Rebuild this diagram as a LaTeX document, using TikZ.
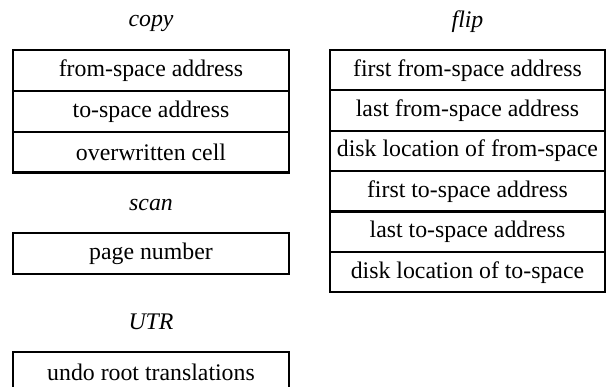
\documentclass[tikz,border=0pt]{standalone}
\usepackage{fontspec}
\setmainfont{Liberation Serif}
\usetikzlibrary{positioning}

\begin{document}
\begin{tikzpicture}[x=1pt,y=1pt,line width=2.2pt,
        node distance=0pt,
        field/.style={rectangle,draw,outer sep=0pt,inner sep=0pt,
          minimum height=40.8pt,font=\fontsize{23.8}{28}\selectfont},
        lfield/.style={field,minimum width=276pt},
        rfield/.style={field,minimum width=275pt,minimum height=40.4pt},
        title/.style={anchor=base,font=\fontsize{23.8}{28}\selectfont\itshape}]
      \clip (0,0) rectangle (606,-387);
      \useasboundingbox (0,0) rectangle (606,-387);

      % copy
      \node[lfield] (cp1) at (151,-70.5) {from-space address};
      \node[lfield] (cp2) [below=of cp1] {to-space address};
      \node[lfield] (cp3) [below=of cp2] {overwritten cell};
      \node[title] (cptitle) at (151,-27) {copy};

      % scan
      \node[lfield] (sc1) at (151,-253.5) {page number};
      \node[title] (sctitle) at (151,-211) {scan};

      % UTR
      \node[lfield] (ut1) at (151,-372.5) {undo root translations};
      \node[title] (uttitle) at (151,-330) {UTR};

      % flip
      \node[rfield] (fl1) at (467.5,-70.2) {first from-space address};
      \node[rfield] (fl2) [below=of fl1] {last from-space address};
      \node[rfield] (fl3) [below=of fl2] {disk location of from-space};
      \node[rfield] (fl4) [below=of fl3] {first to-space address};
      \node[rfield] (fl5) [below=of fl4] {last to-space address};
      \node[rfield] (fl6) [below=of fl5] {disk location of to-space};
      \node[title] (fltitle) at (467.5,-28) {flip};
\end{tikzpicture}
\end{document}
